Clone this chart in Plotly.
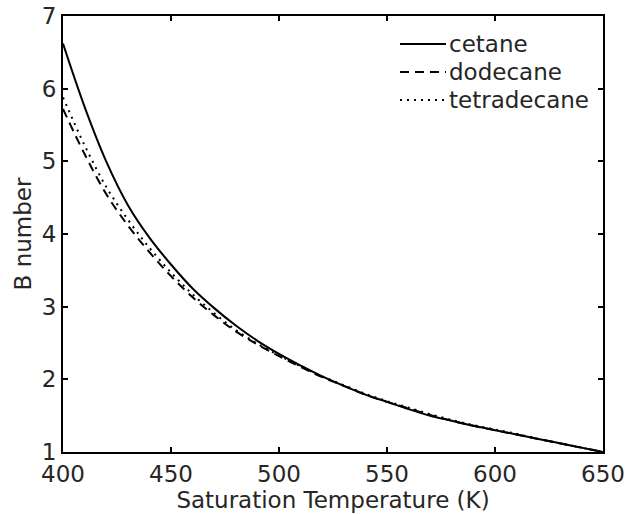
import plotly.graph_objects as go

temps = [400, 410, 420, 430, 440, 450, 460, 470, 480, 490, 500, 510, 520,
         530, 540, 550, 560, 570, 580, 590, 600, 610, 620, 630, 640, 650]

cetane = [6.62, 5.75, 5.00, 4.40, 3.95, 3.58, 3.25, 2.98, 2.74, 2.53, 2.35,
          2.19, 2.04, 1.91, 1.79, 1.69, 1.59, 1.50, 1.43, 1.36, 1.30, 1.24,
          1.18, 1.12, 1.06, 1.00]

dodecane = [5.72, 5.10, 4.55, 4.12, 3.75, 3.42, 3.13, 2.88, 2.66, 2.48, 2.32,
            2.17, 2.03, 1.91, 1.79, 1.69, 1.60, 1.51, 1.43, 1.36, 1.30, 1.24,
            1.18, 1.12, 1.06, 1.00]

tetradecane = [5.88, 5.22, 4.65, 4.20, 3.81, 3.47, 3.17, 2.91, 2.68, 2.49, 2.33,
               2.18, 2.04, 1.92, 1.80, 1.70, 1.61, 1.52, 1.44, 1.37, 1.31, 1.25,
               1.18, 1.12, 1.06, 1.00]

series_names = ["cetane", "dodecane", "tetradecane"]
series_dashes = ["solid", "9px,6px", "2px,5px"]

x_ticks = [400, 450, 500, 550, 600, 650]
y_ticks = [1, 2, 3, 4, 5, 6, 7]

FONT = "DejaVu Sans, Verdana, sans-serif"
TXT = "#262626"
FS = 23

fig = go.Figure()
for name, ys, dash in zip(series_names, [cetane, dodecane, tetradecane], series_dashes):
    fig.add_trace(go.Scatter(x=temps, y=ys, name=name, mode="lines", showlegend=False,
                             line=dict(color="black", width=2, dash=dash, shape="spline")))

axis_common = dict(showgrid=False, zeroline=False, showline=True, linecolor="black",
                   linewidth=2, mirror="ticks", ticks="inside", ticklen=5, tickwidth=1.5,
                   tickcolor="black", automargin=False,
                   tickfont=dict(family=FONT, size=FS, color=TXT))

fig.update_xaxes(range=[400, 650], tickvals=x_ticks, ticktext=[str(v) for v in x_ticks],
                 title=dict(text="Saturation Temperature (K)", standoff=0,
                            font=dict(family=FONT, size=FS, color=TXT)),
                 **axis_common)
fig.update_yaxes(range=[1, 7], tickvals=y_ticks, ticktext=[str(v) for v in y_ticks],
                 title=dict(text="B number", standoff=4,
                            font=dict(family=FONT, size=FS, color=TXT)),
                 **axis_common)

# Manual legend (MATLAB style: long line sample, no box)
plot_l, plot_r, plot_t, plot_b = 63, 603, 16, 452
W, H = plot_r - plot_l, plot_b - plot_t
def px(x):
    return (x - plot_l) / W
def py(y):
    return 1 - (y - plot_t) / H

legend_rows = [44, 72, 100]
for name, dash, yrow in zip(series_names, series_dashes, legend_rows):
    fig.add_shape(type="line", xref="paper", yref="paper",
                  x0=px(400), x1=px(446), y0=py(yrow), y1=py(yrow),
                  line=dict(color="black", width=2, dash=dash))
    fig.add_annotation(text=name, xref="paper", yref="paper", x=px(447), y=py(yrow),
                       xanchor="left", yanchor="middle", showarrow=False,
                       font=dict(family=FONT, size=FS, color=TXT))

fig.update_layout(
    width=626, height=514,
    margin=dict(l=plot_l, r=626 - plot_r, t=plot_t, b=514 - plot_b),
    paper_bgcolor="white", plot_bgcolor="white",
    font=dict(family=FONT, size=FS, color=TXT),
    showlegend=False,
)

fig.write_html("out.html")
